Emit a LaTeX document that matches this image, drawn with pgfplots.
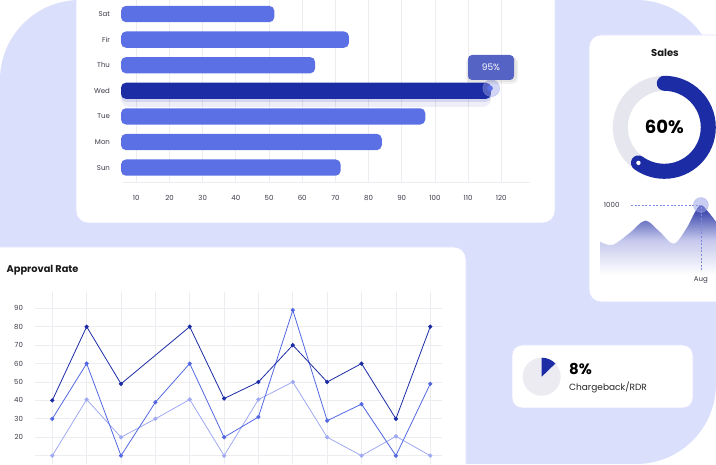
\documentclass[border=0pt]{standalone}
\usepackage{fontspec}
\setmainfont{Poppins}
\usepackage{pgfplots}
\usepackage{pgfplotstable}
\pgfplotsset{compat=1.18}

\definecolor{bg}{HTML}{DADFFB}
\definecolor{barc}{HTML}{5C70E6}
\definecolor{dark}{HTML}{1C2CA5}
\definecolor{lite}{HTML}{A0AAF2}
\definecolor{midc}{HTML}{5468E2}
\definecolor{gridc}{HTML}{ECECF1}
\definecolor{txt}{HTML}{3A3A48}
\definecolor{ringg}{HTML}{E6E6EE}
\definecolor{tipc}{HTML}{5563C4}
\definecolor{dashc}{HTML}{7F89E2}
\definecolor{areatop}{HTML}{2330A0}
\definecolor{areamid}{HTML}{C5C8EC}
\definecolor{halo}{HTML}{9CA4E6}

% bar lengths per day (0 = Sun ... 6 = Sat), Wed drawn on its own
\pgfplotstableread{
idx v
0 71.6
1 84.0
2 97.1
4 63.9
5 74.1
6 51.6
}\days
\pgfplotstableread{
idx v
3 116.9
}\wed

\begin{document}
\begin{tikzpicture}[x=1pt,y=1pt]
\useasboundingbox (0,0) rectangle (716,464);
\begin{scope}
\clip (0,0) rectangle (716,464);
\fill[white] (0,0) rectangle (716,464);
\fill[bg, rounded corners=80pt] (0,0) rectangle (716,464);

% cards, with a faint halo round them
\begin{scope}[draw=bg!70!blue!30, line width=0.8pt]
\filldraw[fill=white, rounded corners=12pt] (76,241) rectangle (555,500);
\filldraw[fill=white, rounded corners=12pt] (-20,-20) rectangle (466,217);
\filldraw[fill=white, rounded corners=12pt] (589,162) rectangle (740,429);
\filldraw[fill=white, rounded corners=10pt] (512,56) rectangle (693,119);
\end{scope}

% ---- horizontal bars (axis starts at 5.39)
\begin{axis}[
  at={(121pt,281.3pt)}, anchor=south west,
  scale only axis, width=409pt, height=182.5pt,
  xmin=0, xmax=123.27, ymin=-0.59, ymax=6.54,
  xbar, bar width=16.3pt, bar shift=0pt,
  axis line style={draw=none}, major tick length=0pt,
  xtick={4.61,14.61,24.61,34.61,44.61,54.61,64.61,74.61,84.61,94.61,104.61,114.61},
  xticklabels={10,20,30,40,50,60,70,80,90,100,110,120},
  ytick={0,...,6}, yticklabels={Sun,Mon,Tue,Wed,Thu,Fir,Sat},
  xmajorgrids, grid style={gridc, line width=0.7pt},
  tick label style={font=\fontsize{7}{8}\selectfont, text=txt},
  xticklabel style={yshift=-9pt}, yticklabel style={xshift=-7.5pt},
]
\draw[gridc, line width=0.7pt] (rel axis cs:0.005,0) -- (rel axis cs:1,0);
\addplot[fill=barc, draw=none, rounded corners=5pt]
  table[x expr=\thisrow{v}-5.39, y=idx] {\days};
\addplot[fill=dark, fill opacity=0.08, draw=none, bar width=18pt, bar shift=-7pt, rounded corners=8pt]
  table[x expr=\thisrow{v}-5.39, y=idx] {\wed};
\addplot[fill=dark, fill opacity=0.12, draw=none, bar width=12pt, bar shift=-5pt, rounded corners=5pt]
  table[x expr=\thisrow{v}-5.39, y=idx] {\wed};
\addplot[fill=dark, draw=none, rounded corners=5pt]
  table[x expr=\thisrow{v}-5.39, y=idx] {\wed};
\addplot[halo, opacity=0.45, only marks, mark=*, mark size=8.5pt]
  coordinates {(111.6,3.1)};
\addplot[barc, only marks, mark=*, mark size=2.6pt]
  coordinates {(111.2,3.1)};
\end{axis}
\fill[black, opacity=0.05, rounded corners=6pt] (466,380) rectangle (518,407);
\fill[black, opacity=0.05, rounded corners=5pt] (467,382) rectangle (517,407);
\node[fill=tipc, text=white, rounded corners=4pt, minimum width=46pt, minimum height=25pt,
  inner sep=0pt, font=\fontsize{9}{10}\selectfont]
  at (491,396.5) {95\%};

% ---- approval rate
\node[anchor=west, inner sep=0pt, font=\bfseries\fontsize{9.8}{12}\selectfont, text=black!90] at (6.5,194) {Approval Rate};
\begin{axis}[
  at={(35pt,-0.9pt)}, anchor=south west,
  scale only axis, width=406.6pt, height=173.2pt,
  xmin=-0.503, xmax=11.33, ymin=5, ymax=99,
  axis line style={draw=none}, major tick length=0pt,
  xtick={0,...,11}, xticklabels={},
  ytick={10,20,...,90}, yticklabels={,20,30,40,50,60,70,80,90},
  grid=major, grid style={gridc, line width=0.7pt},
  tick label style={font=\fontsize{7}{8}\selectfont, text=txt},
  yticklabel style={xshift=-8.5pt},
  mark size=1.7pt,
]
\addplot[lite, line width=0.8pt, mark=*] coordinates {
  (0,10) (1,40.5) (2,20) (3,30) (4,40.5) (5,10) (6,40.5) (7,50) (8,20) (9,10) (10,20.5) (11,10)};
\addplot[midc, line width=0.8pt, mark=*] coordinates {
  (0,30) (1,60) (2,10) (3,39) (4,60) (5,20) (6,31) (7,89) (8,29) (9,38) (10,10) (11,49)};
\addplot[dark, line width=0.8pt, mark=*] coordinates {
  (0,40) (1,80) (2,49) (4,80) (5,41) (6,50) (7,70) (8,50) (9,60) (10,30) (11,80)};
\end{axis}

% ---- sales donut
\node[font=\bfseries\fontsize{10}{12}\selectfont, text=black!90] at (665,411.3) {Sales};
\pgfmathsetmacro{\endang}{90-3.6*60}
\draw[ringg, line width=15pt] (664.3,336.7) circle (44);
\draw[dark, line width=15pt, line cap=round] (664.3,336.7) ++(90:44) arc[start angle=90, end angle=\endang, radius=44];
\fill[white] (664.3,336.7) ++(\endang:44) circle (2.2);
\node[font=\bfseries\fontsize{18}{20}\selectfont, text=black] at (664.3,336.7) {60\%};

% ---- sales area
\begin{axis}[
  at={(600pt,189pt)}, anchor=south west,
  scale only axis, width=116pt, height=70pt,
  xmin=4.46, xmax=8.53, ymin=0, ymax=1000,
  hide axis, clip=false,
]
\addplot[draw=none, smooth, tension=0.55, top color=areatop, bottom color=white, middle color=areamid]
  coordinates {(4.46,476) (4.9,430) (5.5,600) (6.05,776) (6.55,619) (7.05,447) (7.5,671) (7.78,890) (8,1000) (8.25,905) (8.53,761)} \closedcycle;
\draw[dashc, dash pattern=on 2pt off 1.6pt, line width=0.5pt] (axis cs:5.55,1000) -- (axis cs:8,1000) -- (axis cs:8,71);
\addplot[halo, opacity=0.55, only marks, mark=*, mark size=7.5pt]
  coordinates {(8,1000)};
\node[font=\fontsize{7}{8}\selectfont, text=txt] at (axis cs:4.87,1000) {1000};
\node[font=\fontsize{7}{8}\selectfont, text=txt] at (axis cs:8,-71) {Aug};
\end{axis}

% ---- chargeback
\fill[ringg!80] (541.7,87.3) circle (19);
\fill[dark] (541.7,87.3) -- ++(90:19) arc[start angle=90, end angle=44, radius=19] -- cycle;
\node[anchor=west, inner sep=0pt, font=\bfseries\fontsize{15}{17}\selectfont, text=black] at (569,94.7) {8\%};
\node[anchor=west, inner sep=0pt, font=\fontsize{9}{11}\selectfont, text=black!85] at (569,76.3) {Chargeback/RDR};
\end{scope}
\end{tikzpicture}
\end{document}
